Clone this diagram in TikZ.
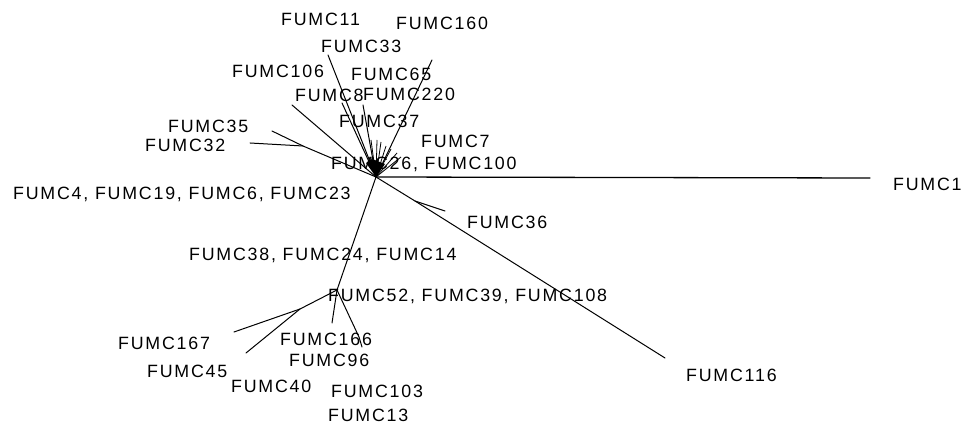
\documentclass[tikz,border=0pt]{standalone}
\usepackage{fontspec}
\newfontfamily\arbolfont{Liberation Sans}[LetterSpace=10]
\usetikzlibrary{positioning}
\tikzset{
  etiq/.style={font=\arbolfont\fontsize{17.8}{18}\selectfont, anchor=west,
    inner sep=0pt, text height=12.8pt, text depth=0pt},
  rama/.style={line width=1pt, line cap=round},
  espiga/.style={line width=0.8pt}
}

\begin{document}
\begin{tikzpicture}[x=1pt,y=-1pt]
\useasboundingbox (0,0) rectangle (966,427);

% nodos internos del arbol
\coordinate (hub)  at (376,177);
\coordinate (n36)  at (415,201);
\coordinate (n38)  at (337,290);
\coordinate (n167) at (300,309);
\coordinate (n96)  at (359,337);
\coordinate (n35)  at (303,146);

% extremos de las ramas
\coordinate (h1)   at (870,178);
\coordinate (h116) at (665,358);
\coordinate (h36)  at (445,211);
\coordinate (h167) at (234,332);
\coordinate (h45)  at (246,353);
\coordinate (h166) at (332,323);
\coordinate (h96)  at (362,347);
\coordinate (h33)  at (328,55);
\coordinate (h160) at (432,60);
\coordinate (h106) at (292,105);
\coordinate (h8)   at (363,105);
\coordinate (h11)  at (342,103);
\coordinate (h35)  at (272,131);
\coordinate (h32)  at (250,143);

% ramas
\draw[rama, line width=1.3pt] (hub) -- (h1);
\draw[rama] (hub) -- (n36) -- (h116);
\draw[rama] (n36) -- (h36);
\draw[rama] (hub) -- (n38);
\draw[rama] (n38) -- (n167) -- (h167);
\draw[rama] (n167) -- (h45);
\draw[rama] (n38) -- (h166);
\draw[rama] (n38) -- (n96) -- (h96);
\draw[rama] (hub) -- (h33);
\draw[rama] (hub) -- (h160);
\draw[rama] (hub) -- (h106);
\draw[rama] (hub) -- (h8);
\draw[rama] (hub) -- (h11);
\draw[rama] (hub) -- (n35) -- (h35);
\draw[rama] (n35) -- (h32);

% espigas cortas junto al centro
\foreach \ex/\ey in {371/140,377/140,381/142,386/146,391/149,397/153,401/157}
  \draw[espiga] (hub) -- (\ex,\ey);
\fill (hub) -- (366,163) -- (372,159) -- (385,164) -- cycle;

% etiquetas
\node[etiq] (e11)   at (281,19.5)  {FUMC11};
\node[etiq] (e160)  at (396,23)    {FUMC160};
\node[etiq] (e33)   at (321,46)    {FUMC33};
\node[etiq] (e106)  at (232,71.5)  {FUMC106};
\node[etiq] (e65)   at (351,74.5)  {FUMC65};
\node[etiq] (e8)    at (295,95)    {FUMC8};
\node[etiq] (e220)  at (363,94)    {FUMC220};
\node[etiq] (e37)   at (339,121.5) {FUMC37};
\node[etiq] (e7)    at (421,141.5) {FUMC7};
\node[etiq] (e26)   at (331,163.5) {FUMC26, FUMC100};
\node[etiq] (e35)   at (168,126)   {FUMC35};
\node[etiq] (e32)   at (145,145)   {FUMC32};
\node[etiq] (e4)    at (13,193)    {FUMC4, FUMC19, FUMC6, FUMC23};
\node[etiq] (e38)   at (189,254)   {FUMC38, FUMC24, FUMC14};
\node[etiq] (e52)   at (328,295.5) {FUMC52, FUMC39, FUMC108};
\node[etiq] (e36)   at (467,222.5) {FUMC36};
\node[etiq] (e1)    at (893,184)   {FUMC1};
\node[etiq] (e116)  at (686,375)   {FUMC116};
\node[etiq] (e167)  at (118,343.5) {FUMC167};
\node[etiq] (e45)   at (147,371)   {FUMC45};
\node[etiq] (e40)   at (231,386.5) {FUMC40};
\node[etiq] (e166)  at (280,339.5) {FUMC166};
\node[etiq] (e96)   at (289,360)   {FUMC96};
\node[etiq] (e103)  at (331,391)   {FUMC103};
\node[etiq] (e13)   at (328,415)   {FUMC13};

\end{tikzpicture}
\end{document}
